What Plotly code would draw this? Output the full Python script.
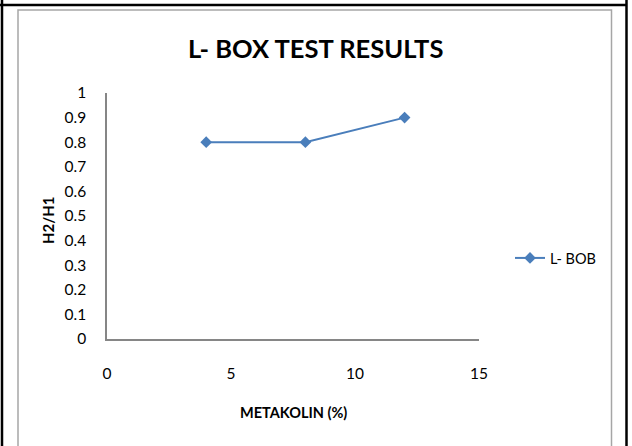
import plotly.graph_objects as go

metakolin = [4, 8, 12]
h2_h1 = [0.8, 0.8, 0.9]
series_name = "L- BOB"
y_ticks = [0, 0.1, 0.2, 0.3, 0.4, 0.5, 0.6, 0.7, 0.8, 0.9, 1]
y_tick_text = ["0", "0.1", "0.2", "0.3", "0.4", "0.5", "0.6", "0.7", "0.8", "0.9", "1"]
x_ticks = [0, 5, 10, 15]

W, H = 632, 446
L, R, T, B = 107, 479, 93, 339  # plot area in pixels

def px(x):
    return (x - L) / (R - L)

def py(y):
    return (B - y) / (B - T)

FONT = "Lato, Open Sans, sans-serif"
blue = "#4a7ebb"

fig = go.Figure()
fig.add_trace(go.Scatter(
    x=metakolin, y=h2_h1, mode="lines+markers", name=series_name,
    line=dict(color=blue, width=2),
    marker=dict(symbol="diamond", size=9, color=blue),
))

shapes = [
    # outer black frame
    dict(type="line", xref="paper", yref="paper", x0=px(0), x1=px(626), y0=py(5), y1=py(5),
         line=dict(color="black", width=2.5)),
    dict(type="line", xref="paper", yref="paper", x0=px(2), x1=px(2), y0=py(0), y1=py(446),
         line=dict(color="black", width=2.5)),
    dict(type="line", xref="paper", yref="paper", x0=px(626.5), x1=px(626.5), y0=py(0), y1=py(446),
         line=dict(color="black", width=2.5)),
    # inner gray chart border
    dict(type="rect", xref="paper", yref="paper", x0=px(18), x1=px(611.5), y0=py(10), y1=py(460),
         line=dict(color="#a6a6a6", width=1.5)),
]

annotations = [
    dict(text="<b>L- BOX TEST RESULTS</b>", xref="paper", yref="paper", x=px(315), y=py(48),
         showarrow=False, font=dict(family=FONT, size=25.5, color="black"), xanchor="center", yanchor="middle"),
    dict(text="<b>H2/H1</b>", xref="paper", yref="paper", x=px(48), y=py(220), textangle=-90,
         showarrow=False, font=dict(family=FONT, size=15, color="black"), xanchor="center", yanchor="middle"),
    dict(text="<b>METAKOLIN (%)</b>", xref="paper", yref="paper", x=px(293), y=py(412),
         showarrow=False, font=dict(family=FONT, size=14.5, color="black"), xanchor="center", yanchor="middle"),
]

fig.update_layout(
    width=W, height=H,
    margin=dict(l=L, r=W - R, t=T, b=H - B, pad=0),
    paper_bgcolor="white", plot_bgcolor="white",
    showlegend=True,
    legend=dict(x=px(510), y=py(258), xanchor="left", yanchor="middle",
                font=dict(family=FONT, size=14.5, color="black"), bgcolor="rgba(0,0,0,0)"),
    shapes=shapes, annotations=annotations,
    xaxis=dict(range=[0, 15], tickvals=x_ticks, showgrid=False, zeroline=False,
               showline=True, linecolor="#868686", linewidth=1.5, ticks="",
               tickfont=dict(family=FONT, size=15.5, color="black"), ticklabelstandoff=20),
    yaxis=dict(range=[0, 1], tickvals=y_ticks, ticktext=y_tick_text, showgrid=False, zeroline=False,
               showline=True, linecolor="#868686", linewidth=1.5, ticks="",
               tickfont=dict(family=FONT, size=15.5, color="black"), ticklabelstandoff=16),
    font=dict(family=FONT),
)

fig.write_html("out.html")
